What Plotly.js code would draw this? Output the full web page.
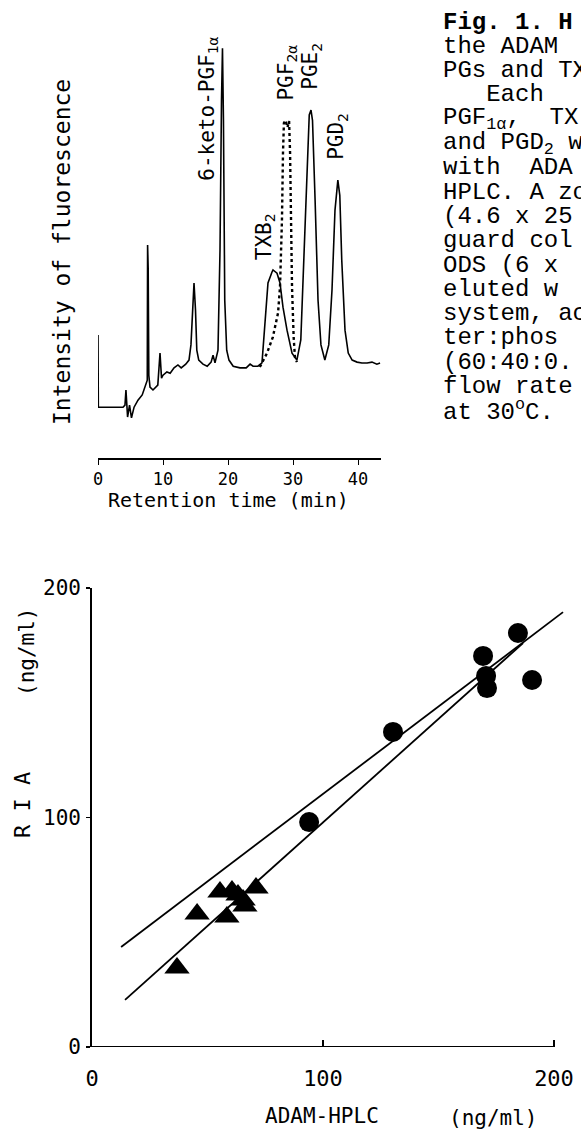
<!DOCTYPE html>
<html><head><meta charset="utf-8">
<script src="https://cdn.plot.ly/plotly-3.0.1.min.js"></script>
<style>html,body{margin:0;padding:0;overflow:hidden;background:#fff}#chart{width:581px;height:1131px}</style>
</head><body><div id="chart"></div>
<script>
// ---- Chromatogram (retention time in min, fluorescence intensity in arbitrary units) ----
const chromTime = [0,0.05,3.85,4.15,4.3,4.55,4.85,5.15,5.55,6.15,6.8,7.2,7.58,7.63,7.72,7.82,8.0,8.46,9.2,9.54,9.77,10.0,10.6,11.1,11.7,12.3,12.8,13.5,14.0,14.3,14.6,14.77,15.0,15.2,15.5,16.15,16.8,17.4,17.7,18.0,18.46,18.77,19.0,19.15,19.3,19.5,19.8,20.15,20.8,21.85,22.8,23.4,23.85,24.6,25.23,25.69,26.15,26.77,26.92,27.54,28.0,28.46,29.08,29.85,30.6,31.2,31.7,32.15,32.5,32.77,33.0,33.4,33.85,34.3,34.9,35.5,36.0,36.46,36.77,36.9,37.2,37.5,38.0,38.5,39.1,39.85,40.6,41.4,42.15,42.9,43.4];
const chromIntensity = [30.0,12.4,12.4,12.9,16.6,10.0,12.9,9.8,12.4,14.1,15.4,17.1,19.0,52.0,46.3,20.2,17.3,16.6,17.8,25.6,19.5,20.2,21.0,20.7,22.0,22.7,22.0,22.9,23.9,27.6,38.5,42.7,36.1,26.3,23.9,22.9,22.4,23.4,25.1,23.2,26.3,50.7,87.3,100,82.4,38.5,26.3,23.9,22.4,22.0,22.0,22.9,22.4,22.4,23.2,33.7,42.7,45.4,45.9,45.1,42.7,36.8,31.2,25.6,23.9,28.8,50.7,72.7,83.7,84.9,82.4,62.9,38.5,27.6,23.9,27.6,41.0,60.5,66.6,67.8,64.1,48.3,31.2,25.6,23.9,23.4,23.2,23.2,23.4,22.9,23.2];
// PGF2a peak (dotted)
const pgf2aTime = [24.9,26.0,26.9,27.7,28.0,28.3,28.46,28.6,28.85,29.15,29.4,29.55,29.7,29.85,30.1,30.3,30.6];
const pgf2aIntensity = [22.2,25.6,29.5,35.4,41.7,58.0,74.4,81.7,82.4,80.7,82.2,74.4,58.0,41.7,29.5,24.6,23.4];
const timeTicks = [0,10,20,30,40];
const peakNames = ['6-keto-PGF<sub>1α</sub>','TXB<sub>2</sub>','PGF<sub>2α</sub>','PGE<sub>2</sub>','PGD<sub>2</sub>'];
const peakLabelTime = [16.9,25.7,29.1,32.85,36.85];
const peakLabelIntensity = [85.2,53.9,94.1,95.6,78.5];

// ---- Correlation RIA vs ADAM-HPLC (ng/ml) ----
const hplcCircle = [94,130.3,169.3,170.6,171.0,184.4,190.5];
const riaCircle  = [98,137.3,170.4,161.7,156.4,180.4,159.9];
const hplcTriangle = [36.8,45.5,55.4,60.6,65.4,71.0,58.4,66.2,63.2];
const riaTriangle  = [34.4,58.0,67.5,68.0,64.1,69.3,56.6,61.4,66.2];
const line1X = [12.6,203.9], line1Y = [43.6,189.5];
const line2X = [14.3,186.6], line2Y = [20.5,176.0];
const concTicks = [0,100,200];

// ---- Caption ----
const captionLines = ['Fig. 1. H','the ADAM','PGs and TX','\u00a0\u00a0\u00a0Each','PGF<sub>1α</sub>,\u00a0\u00a0TX','and PGD<sub>2</sub> w','with\u00a0\u00a0ADA','HPLC. A zo','(4.6 x 25','guard col','ODS (6 x','eluted w','system, ac','ter:phos','(60:40:0.','flow rate','at 30<sup>o</sup>C.'];

const W = 581, H = 1131;
const px = x => x / W, py = y => 1 - y / H;
const mono = 'DejaVu Sans Mono';

const traces = [
  {x: chromTime, y: chromIntensity, xaxis:'x', yaxis:'y', mode:'lines', line:{color:'#000', width:1.6}, hoverinfo:'skip'},
  {x: pgf2aTime, y: pgf2aIntensity, xaxis:'x', yaxis:'y', mode:'lines', line:{color:'#000', width:2.4, dash:'dot'}, hoverinfo:'skip'},
  {x: line1X, y: line1Y, xaxis:'x2', yaxis:'y2', mode:'lines', line:{color:'#000', width:1.8}},
  {x: line2X, y: line2Y, xaxis:'x2', yaxis:'y2', mode:'lines', line:{color:'#000', width:1.8}},
  {x: hplcCircle, y: riaCircle, xaxis:'x2', yaxis:'y2', mode:'markers', marker:{symbol:'circle', size:20, color:'#000'}},
  {x: hplcTriangle, y: riaTriangle, xaxis:'x2', yaxis:'y2', mode:'markers', marker:{symbol:'triangle-up', size:22, color:'#000'}}
];

const annotations = [];
peakNames.forEach((t,i) => annotations.push({xref:'x', yref:'y', x: peakLabelTime[i], y: peakLabelIntensity[i], text:t, textangle:-90, showarrow:false, xanchor:'center', yanchor:'middle', font:{family:mono, size:21, color:'#000'}}));
annotations.push({xref:'paper', yref:'paper', x:px(62), y:py(252), text:'Intensity of fluorescence', textangle:-90, showarrow:false, xanchor:'center', yanchor:'middle', font:{family:mono, size:23, color:'#000'}});
annotations.push({xref:'paper', yref:'paper', x:px(228), y:py(500), text:'Retention time (min)', showarrow:false, xanchor:'center', yanchor:'middle', font:{family:mono, size:20, color:'#000'}});
annotations.push({xref:'paper', yref:'paper', x:px(322), y:py(1116), text:'ADAM-HPLC', showarrow:false, xanchor:'center', yanchor:'middle', font:{family:mono, size:21, color:'#000'}});
annotations.push({xref:'paper', yref:'paper', x:px(494), y:py(1118), text:'(ng/ml)', showarrow:false, xanchor:'center', yanchor:'middle', font:{family:mono, size:21, color:'#000'}});
annotations.push({xref:'paper', yref:'paper', x:px(22), y:py(805), text:'R I A', textangle:-90, showarrow:false, xanchor:'center', yanchor:'middle', font:{family:mono, size:22, color:'#000'}});
annotations.push({xref:'paper', yref:'paper', x:px(27), y:py(652), text:'(ng/ml)', textangle:-90, showarrow:false, xanchor:'center', yanchor:'middle', font:{family:mono, size:21, color:'#000'}});
captionLines.forEach((t,i) => annotations.push({xref:'paper', yref:'paper', x:px(441), y:py(22 + i*24.3), text: i===0 ? '<b>'+t+'</b>' : t, showarrow:false, xanchor:'left', yanchor:'middle', font:{family:'Liberation Mono', size:24, color:'#000'}}));

const layout = {
  width: W, height: H, margin:{l:0,r:0,t:0,b:0}, paper_bgcolor:'#fff', plot_bgcolor:'rgba(0,0,0,0)', showlegend:false,
  xaxis: {domain:[px(98), px(98+43.5*6.5)], range:[0,43.5], showgrid:false, zeroline:false, showline:true, linecolor:'#000', linewidth:1.5,
          tickvals: timeTicks, ticktext: timeTicks.map(String), ticks:'outside', ticklen:5, tickcolor:'#000', tickfont:{family:mono, size:17, color:'#000'}, anchor:'y'},
  yaxis: {domain:[py(458), py(40)], range:[0,102], visible:false, anchor:'x'},
  xaxis2: {domain:[px(92), px(92+206*2.31)], range:[0,206], showgrid:false, zeroline:false, showline:false,
          tickvals: concTicks, ticktext: concTicks.map(String), ticks:'inside', ticklen:7, tickcolor:'#000', tickwidth:1.5, ticklabelstandoff:16, tickfont:{family:mono, size:22, color:'#000'}, anchor:'y2'},
  yaxis2: {domain:[py(1047), py(588)], range:[0,200], showgrid:false, zeroline:false, showline:true, linecolor:'#000', linewidth:1.8,
          tickvals: concTicks, ticktext: concTicks.map(String), ticks:'outside', ticklen:4, tickcolor:'#000', tickwidth:1.5, ticklabelstandoff:1, tickfont:{family:mono, size:21, color:'#000'}, anchor:'x2'},
  shapes: [{type:'line', xref:'x2', yref:'y2', x0:0, x1:200, y0:0, y1:0, line:{color:'#000', width:1.8}}],
  annotations: annotations
};
Plotly.newPlot('chart', traces, layout, {staticPlot:true, displayModeBar:false});
</script></body></html>
